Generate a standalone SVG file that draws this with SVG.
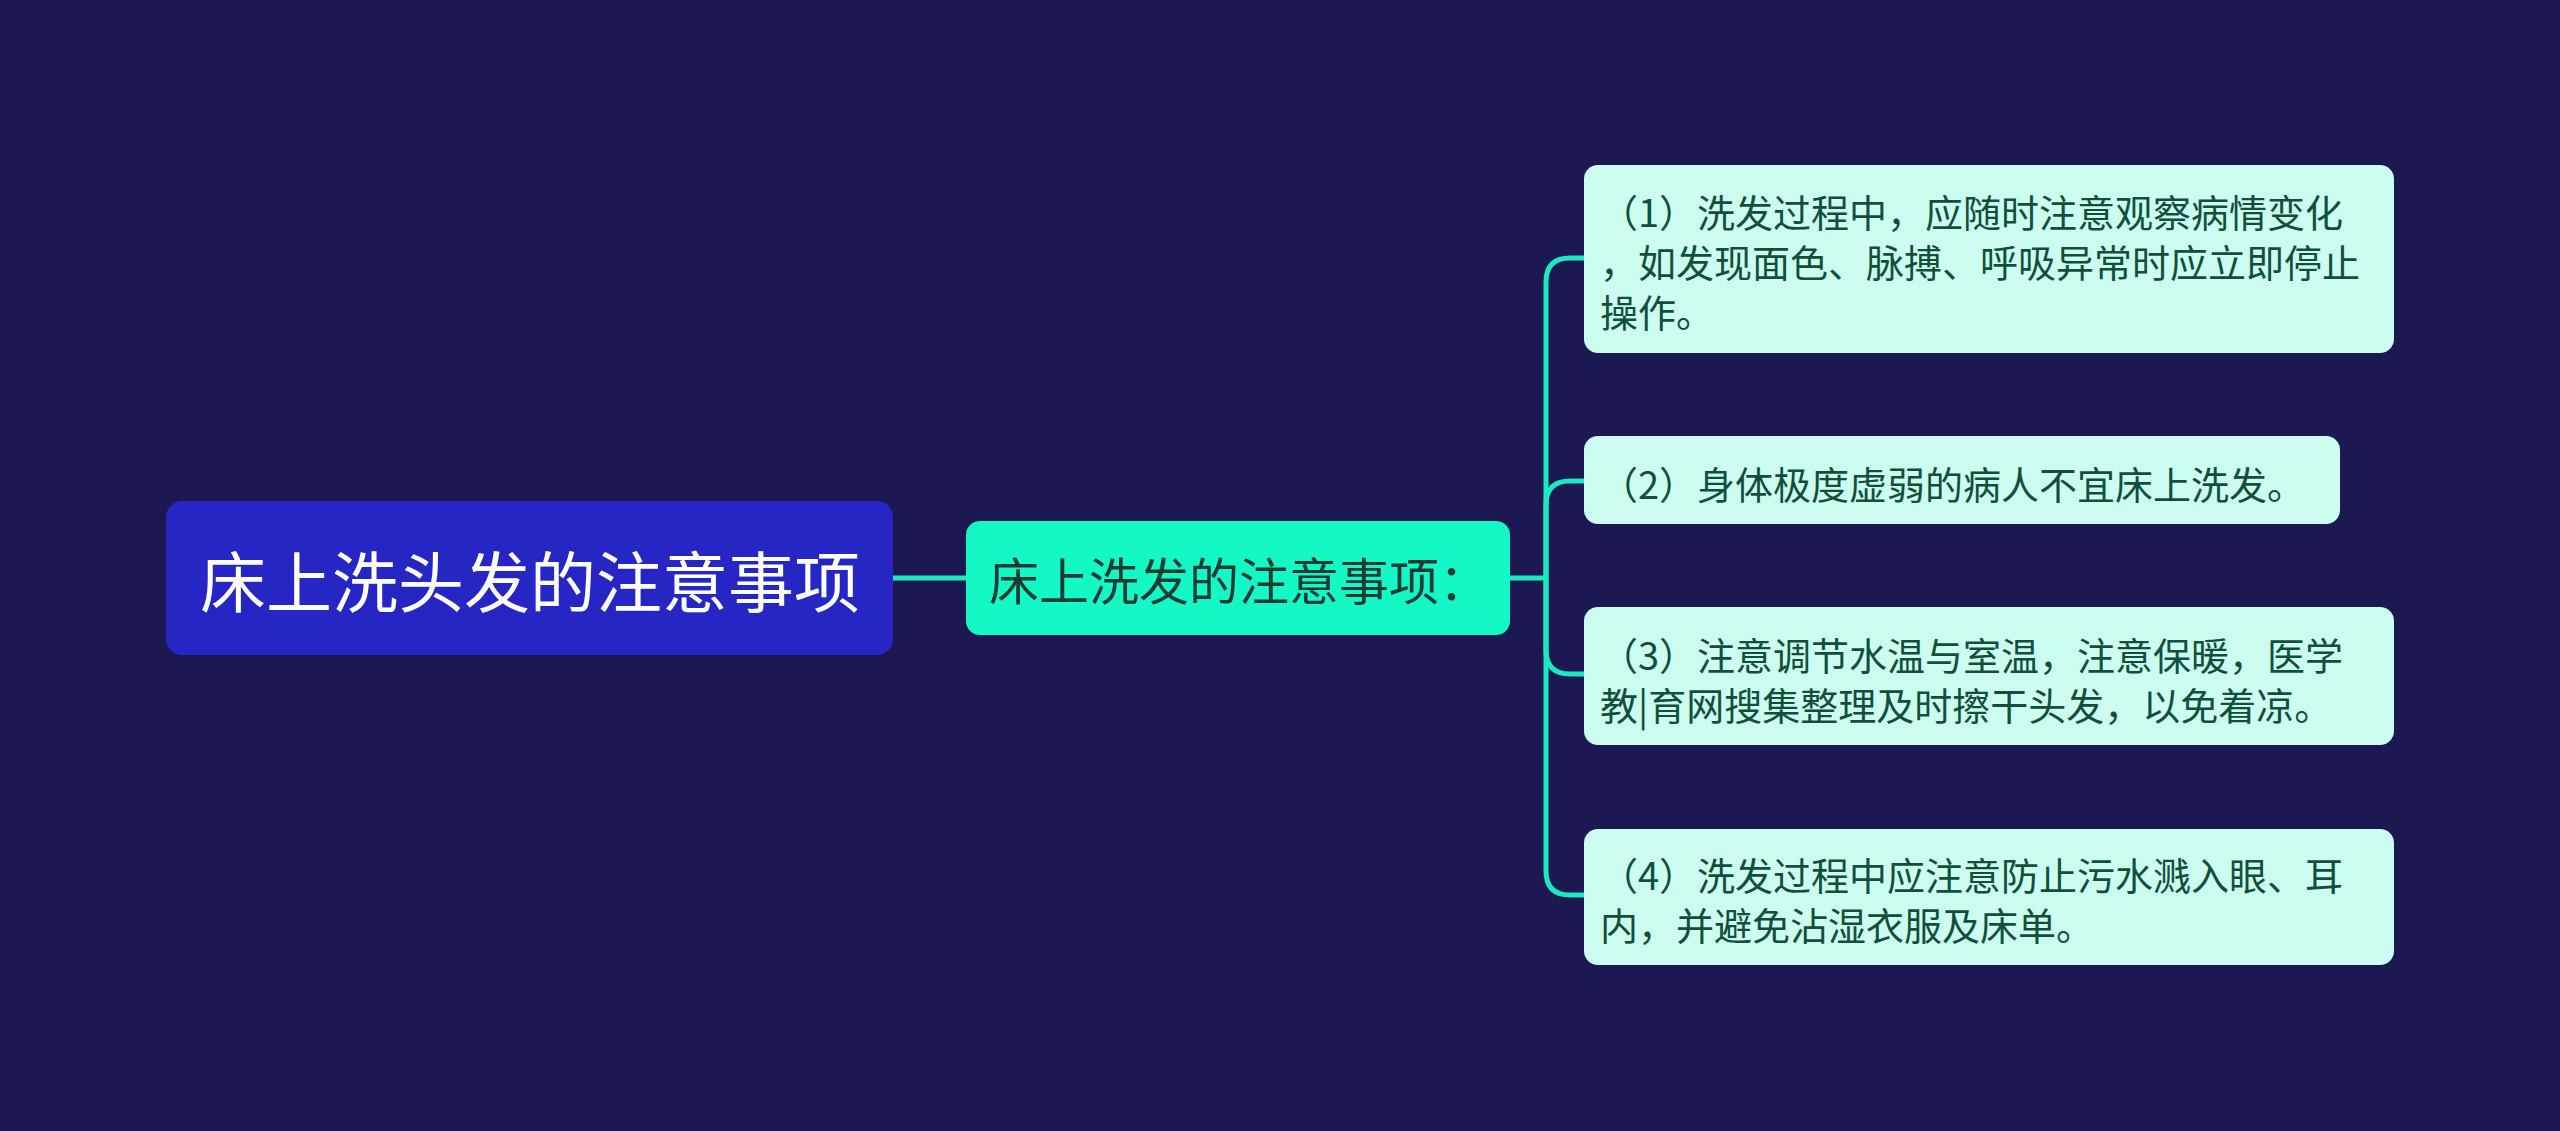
<svg xmlns="http://www.w3.org/2000/svg" width="2560" height="1131" viewBox="0 0 2560 1131">
<style>
.cjk{font-family:"Noto Sans CJK SC","Noto Sans",sans-serif;dominant-baseline:central}
.leaf rect{fill:#ccfdf0}
.leaf text{fill:#10503a;font-size:38px}
.conn{fill:none;stroke:#1de9c0;stroke-width:5}
</style>
<rect x="0" y="0" width="2560" height="1131" fill="#1b1852"/>
<g id="connectors">
<path class="conn" d="M893 578 H966"/>
<path class="conn" d="M1510 578 H1546"/>
<path class="conn" d="M1546 578 V282 Q1546 258 1570 258 H1584"/>
<path class="conn" d="M1546 578 V505 Q1546 481 1570 481 H1584"/>
<path class="conn" d="M1546 578 V650 Q1546 674 1570 674 H1584"/>
<path class="conn" d="M1546 578 V871 Q1546 895 1570 895 H1584"/>
</g>
<g id="root">
<rect x="166" y="501" width="727" height="154" rx="16" fill="#2626c4"/>
<text class="cjk" x="530" y="578" text-anchor="middle" font-size="66" fill="#ffffff">床上洗头发的注意事项</text>
</g>
<g id="middle">
<rect x="966" y="521" width="544" height="114" rx="14" fill="#14f8c6"/>
<text class="cjk" x="989" y="578" font-size="50" fill="#1d3b33">床上洗发的注意事项：</text>
</g>
<g id="leaf1" class="leaf">
<rect x="1584" y="165" width="810" height="188" rx="14"/>
<text class="cjk" x="1600" y="210">（1）洗发过程中，应随时注意观察病情变化</text>
<text class="cjk" x="1600" y="260">，如发现面色、脉搏、呼吸异常时应立即停止</text>
<text class="cjk" x="1600" y="310">操作。</text>
</g>
<g id="leaf2" class="leaf">
<rect x="1584" y="436" width="756" height="88" rx="14"/>
<text class="cjk" x="1600" y="482">（2）身体极度虚弱的病人不宜床上洗发。</text>
</g>
<g id="leaf3" class="leaf">
<rect x="1584" y="607" width="810" height="138" rx="14"/>
<text class="cjk" x="1600" y="653">（3）注意调节水温与室温，注意保暖，医学</text>
<text class="cjk" x="1600" y="703">教|育网搜集整理及时擦干头发，以免着凉。</text>
</g>
<g id="leaf4" class="leaf">
<rect x="1584" y="829" width="810" height="136" rx="14"/>
<text class="cjk" x="1600" y="873">（4）洗发过程中应注意防止污水溅入眼、耳</text>
<text class="cjk" x="1600" y="923">内，并避免沾湿衣服及床单。</text>
</g>
</svg>
